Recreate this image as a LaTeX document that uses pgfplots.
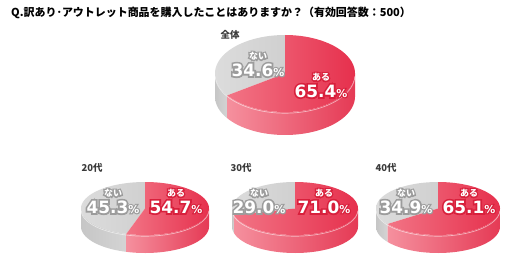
\documentclass[border=0pt]{standalone}
\usepackage{pgfplots}
\pgfplotsset{compat=1.18}
\usepackage{pgfplotstable}
\usepackage{fontspec}
\setmainfont{Noto Sans CJK JP}
\newfontfamily\numfont{DejaVu Sans}
\newfontfamily\numO{DejaVu Sans}[FakeBold=20]
\newfontfamily\jpO{Noto Sans CJK JP}[FakeBold=30]
\definecolor{topL}{HTML}{F27485}
\definecolor{topR}{HTML}{E6304D}
\definecolor{sideL}{HTML}{F5909E}
\definecolor{sideR}{HTML}{E53A55}
\definecolor{gtopL}{HTML}{DCDCDC}
\definecolor{gtopR}{HTML}{D0D0D0}
\definecolor{gsideL}{HTML}{C6C6C6}
\definecolor{gsideR}{HTML}{D4D4D4}
\definecolor{redline}{HTML}{D8203C}
\definecolor{grayline}{HTML}{9C9C9C}
\definecolor{cattext}{HTML}{3A3A3A}

\pgfplotstableread{
row aru nai
0 65.4 34.6
1 54.7 45.3
2 71.0 29.0
3 65.1 34.9
}\piedata

% side band of a slice: #1 t1, #2 t2, #3 rx, #4 ry, #5 depth, #6 style
\newcommand\sideband[6]{%
  \addplot[#6, samples at={0,0.02,...,0.98,1,1.001,1.02,1.04,...,2}]
   ({#3*cos((x<=1) ? (#1+x*(#2-#1)) : (#2-(x-1)*(#2-#1)))},
    {#4*sin((x<=1) ? (#1+x*(#2-#1)) : (#2-(x-1)*(#2-#1))) - ((x<=1) ? 0 : #5)}) -- cycle;%
}

% #1 row, #2 cx, #3 cy (image, top face centre), #4 rx, #5 ry, #6 depth
\newcommand\pie[6]{%
  \pgfplotstablegetelem{#1}{aru}\of\piedata \edef\pieAru{\pgfplotsretval}%
  \pgfmathsetmacro\pieEA{90-3.6*\pieAru}%
  \pgfmathsetmacro\pieW{2*#4}%
  \pgfmathsetmacro\pieHt{2*#5+#6}%
  \pgfmathsetmacro\pieY{266-#3-#6/2}%
  \pgfmathsetmacro\pieYmin{-#5-#6}%
  \begin{axis}[hide axis, scale only axis, width=\pieW bp, height=\pieHt bp,
    xmin=-#4, xmax=#4, ymin=\pieYmin, ymax=#5, clip=false,
    at={(#2 bp,\pieY bp)}, anchor=center, samples=90]
    \sideband{-180}{\pieEA}{#4}{#5}{#6}{draw=none, left color=gsideL, right color=gsideR}
    \sideband{\pieEA}{0}{#4}{#5}{#6}{draw=none, left color=sideL, right color=sideR}
    % top faces
    \addplot[draw=none, left color=gtopL, right color=gtopR, domain=-270:\pieEA] ({#4*cos(x)},{#5*sin(x)}) -- (axis cs:0,0) -- cycle;
    \addplot[draw=none, left color=topL, right color=topR, domain=\pieEA:90] ({#4*cos(x)},{#5*sin(x)}) -- (axis cs:0,0) -- cycle;
    % highlight along the front edge
    \addplot[white, opacity=0.55, line width=0.7pt, domain=-178:-2] ({#4*cos(x)},{#5*sin(x)-1.2});
  \end{axis}%
}

% outlined label: #1 x, #2 y, #3 outline colour, #4 emboldened copy, #5 text
\newcommand\olab[5]{%
  \node[text=#3, inner sep=0] at (#1,#2) {#4};%
  \node[text=white, inner sep=0] at (#1,#2) {#5};%
}
\newcommand\pct[1]{{\numfont\bfseries\fontsize{17}{17}\selectfont #1{\fontsize{11}{11}\selectfont\%}}}
\newcommand\pctO[1]{{\numO\bfseries\fontsize{17}{17}\selectfont #1{\fontsize{11}{11}\selectfont\%}}}
\newcommand\slab[1]{{\bfseries\fontsize{9}{9}\selectfont #1}}
\newcommand\slabO[1]{{\jpO\bfseries\fontsize{9}{9}\selectfont #1}}
\newcommand\vlab[6]{% #1 row, #2 column, #3 x, #4 y, #5 colour, #6 word
  \pgfplotstablegetelem{#1}{#2}\of\piedata
  \edef\vlabval{\pgfplotsretval}%
  \olab{#3}{#4+14}{#5}{\slabO{#6}}{\slab{#6}}%
  \olab{#3}{#4}{#5}{\pctO{\vlabval}}{\pct{\vlabval}}%
}

\begin{document}
\begin{tikzpicture}[x=1bp,y=1bp]
\useasboundingbox (0,0) rectangle (529,266);
\node[anchor=west, inner sep=0, font=\bfseries\fontsize{11}{11}\selectfont] at (11,253)
  {Q.訳あり･アウトレット商品を購入したことはありますか？（有効回答数：500）};

\pie{0}{285}{73.5}{70}{38.5}{23}
\pie{1}{145}{208.5}{64}{26.5}{18}
\pie{2}{295}{208.5}{63}{26.5}{18}
\pie{3}{438}{208.5}{62}{26.5}{18}

% category labels
\node[text=cattext, font=\bfseries\fontsize{9.5}{9.5}\selectfont, inner sep=0] at (230,231) {全体};
\node[text=cattext, font=\bfseries\fontsize{9.5}{9.5}\selectfont, inner sep=0] at (92,98) {20代};
\node[text=cattext, font=\bfseries\fontsize{9.5}{9.5}\selectfont, inner sep=0] at (241,98) {30代};
\node[text=cattext, font=\bfseries\fontsize{9.5}{9.5}\selectfont, inner sep=0] at (386,98) {40代};

% slice labels (values from the table)
\vlab{0}{nai}{258}{196}{grayline}{ない}
\vlab{0}{aru}{321}{175}{redline}{ある}
\vlab{1}{nai}{113}{59}{grayline}{ない}
\vlab{1}{aru}{176}{59}{redline}{ある}
\vlab{2}{nai}{259}{59}{grayline}{ない}
\vlab{2}{aru}{324}{59}{redline}{ある}
\vlab{3}{nai}{406}{59}{grayline}{ない}
\vlab{3}{aru}{469}{59}{redline}{ある}
\end{tikzpicture}
\end{document}
